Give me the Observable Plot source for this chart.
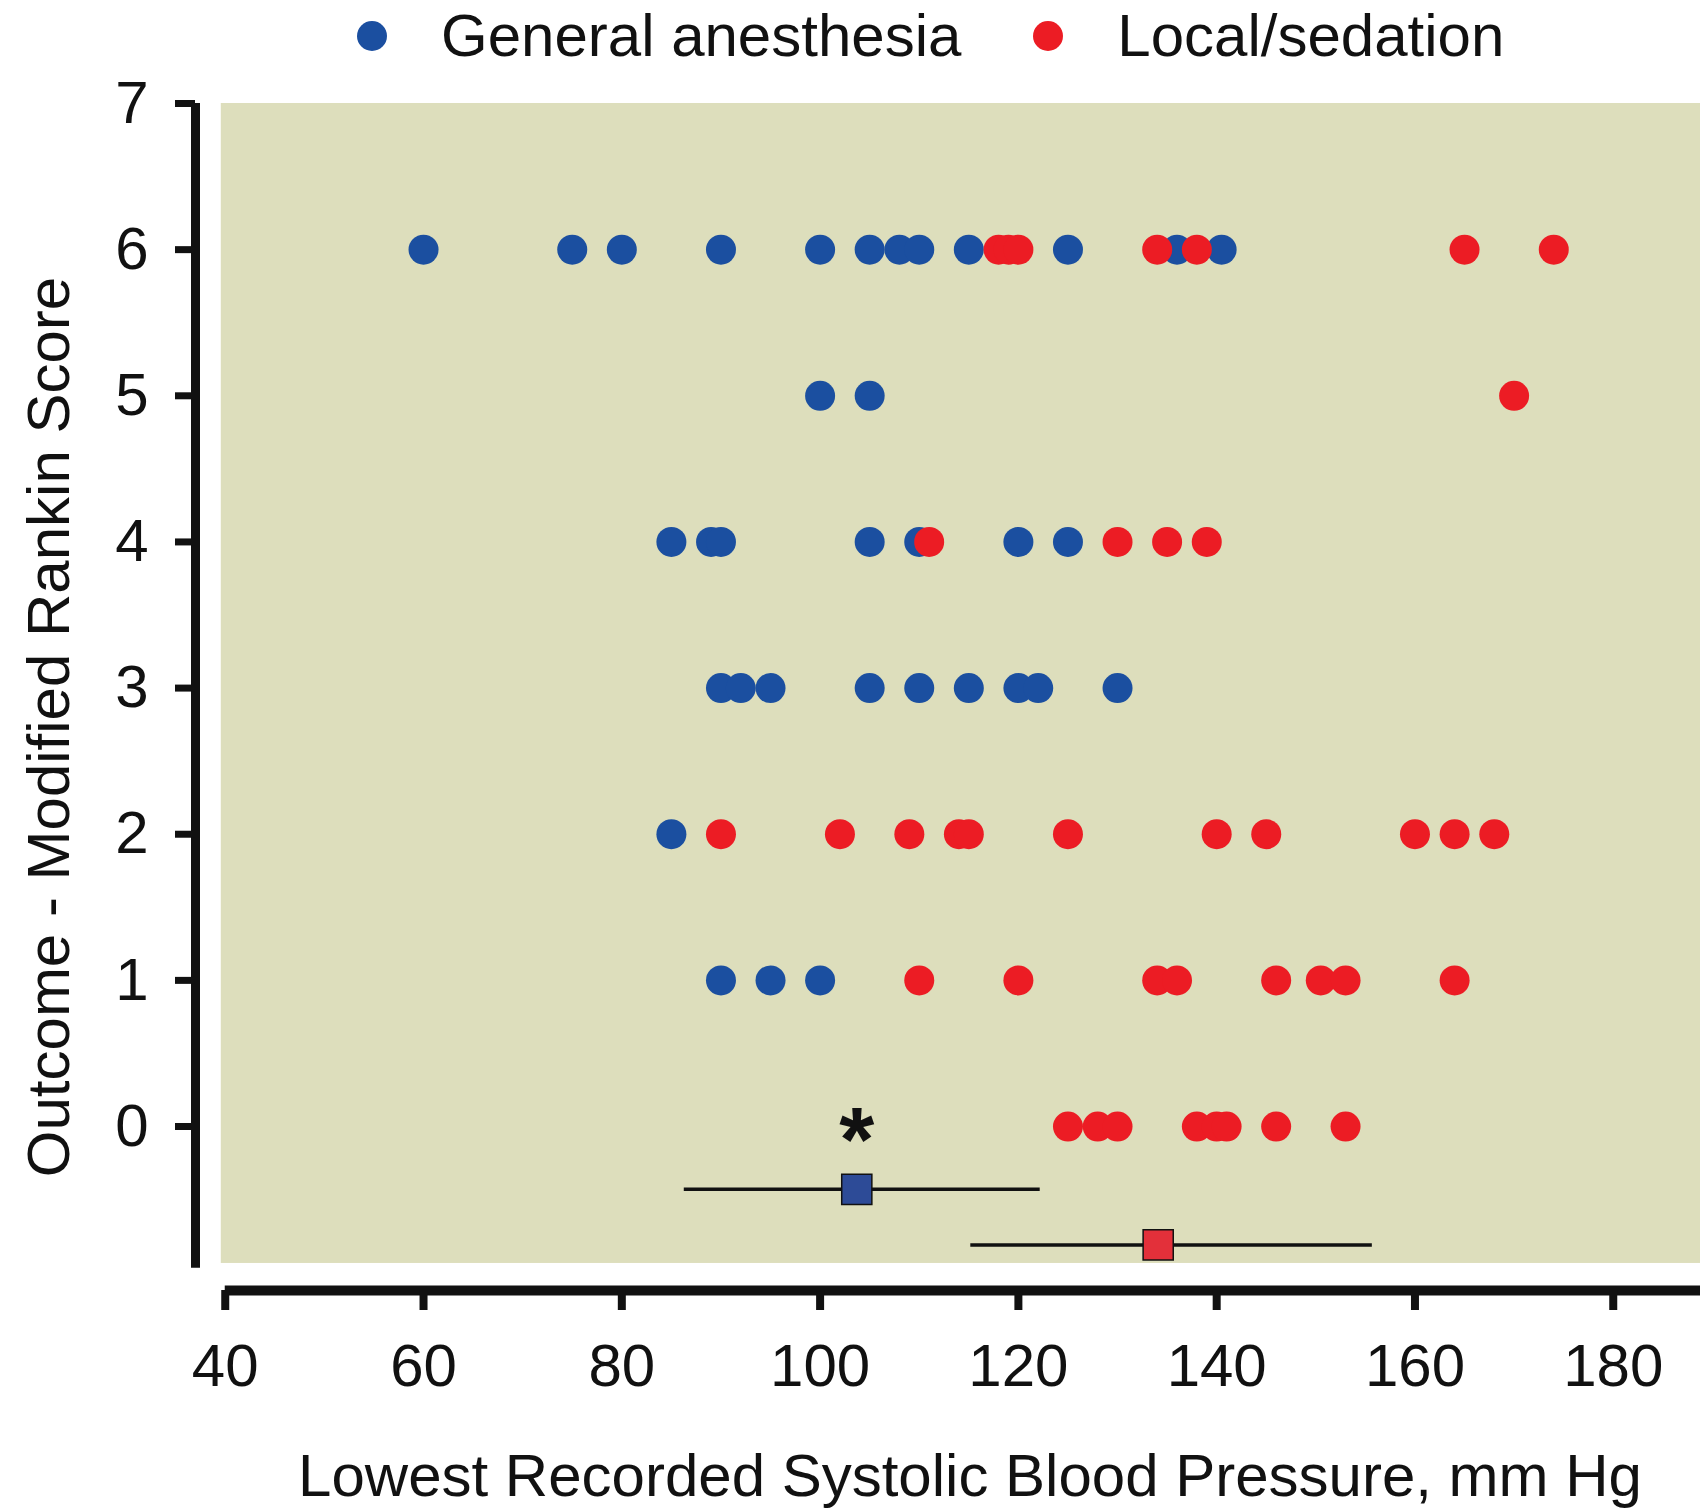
<!DOCTYPE html>
<html><head><meta charset="utf-8">
<script src="https://cdn.jsdelivr.net/npm/d3@7"></script>
<script src="https://cdn.jsdelivr.net/npm/@observablehq/plot@0.6"></script>
<style>
body{margin:0;background:#fff;font-family:"Liberation Sans",Arial,sans-serif;}
#legend{height:72px;display:flex;align-items:center;padding-left:357px;font-size:60px;line-height:1;color:#111;}
.sw{width:30px;height:30px;border-radius:50%;display:inline-block;flex:none;}
#chart{margin-top:8px;}
</style></head><body>
<div id="legend"></div><div id="chart"></div>
<script>
// ---- data ----
const groups = ["General anesthesia", "Local/sedation"];
const groupColors = ["#1b4fa0", "#ec1c24"];
const squareColors = ["#2d4b97", "#e3303a"];

// General anesthesia: x = lowest systolic BP, y = modified Rankin score
const gaX = [60, 75, 80, 90, 100, 105, 108, 110, 115, 125, 136, 140.5,
             100, 105,
             85, 89, 90, 105, 110, 120, 125,
             90, 92, 95, 105, 110, 115, 120, 122, 130,
             85,
             90, 95, 100];
const gaY = [6, 6, 6, 6, 6, 6, 6, 6, 6, 6, 6, 6,
             5, 5,
             4, 4, 4, 4, 4, 4, 4,
             3, 3, 3, 3, 3, 3, 3, 3, 3,
             2,
             1, 1, 1];

// Local/sedation
const lsX = [118, 119, 120, 134, 138, 165, 174,
             170,
             111, 130, 135, 139,
             90, 102, 109, 114, 115, 125, 140, 145, 160, 164, 168,
             110, 120, 134, 136, 146, 150.5, 153, 164,
             125, 128, 130, 138, 140, 141, 146, 153];
const lsY = [6, 6, 6, 6, 6, 6, 6,
             5,
             4, 4, 4, 4,
             2, 2, 2, 2, 2, 2, 2, 2, 2, 2, 2,
             1, 1, 1, 1, 1, 1, 1, 1,
             0, 0, 0, 0, 0, 0, 0, 0];

// mean and spread markers
const sumMean = [103.7, 134.1];
const sumLow = [86.3, 115.2];
const sumHigh = [122.2, 155.7];
const sumY = [-0.43, -0.81];

// significance marker
const starX = [103.7];
const starY = [0];
const starText = ["*"];

const xTicks = [40, 60, 80, 100, 120, 140, 160, 180];
const yTicks = [0, 1, 2, 3, 4, 5, 6, 7];
const xLabel = "Lowest Recorded Systolic Blood Pressure, mm Hg";
const yLabel = "Outcome - Modified Rankin Score";

// scale extents (offset axes)
const xDomain = [37, 188.8];
const yDomain = [-1.122, 7];
const xAxisStart = 40;
const yAxisBottom = -0.97;
const panelX = [39.6, 188.8];
const panelY = [-0.937, 7];
const panelColor = "#dddebc";

// ---- build ----
const gaPts = gaX.map((x, i) => ({x, y: gaY[i]}));
const lsPts = lsX.map((x, i) => ({x, y: lsY[i]}));
const summary = groups.map((g, i) => ({g, mean: sumMean[i], lo: sumLow[i], hi: sumHigh[i], y: sumY[i], c: squareColors[i]}));
const stars = starX.map((x, i) => ({x, y: starY[i], t: starText[i]}));
const panel = [{x1: panelX[0], x2: panelX[1], y1: panelY[0], y2: panelY[1]}];

// legend
const leg = document.getElementById("legend");
groups.forEach((g, i) => {
  const sw = document.createElement("span");
  sw.className = "sw";
  sw.style.background = groupColors[i];
  sw.style.marginLeft = i === 0 ? "0px" : "72px";
  sw.style.marginRight = "54px";
  const t = document.createElement("span");
  t.textContent = g;
  leg.appendChild(sw); leg.appendChild(t);
});

const chart = Plot.plot({
  width: 1700,
  height: 1429,
  marginLeft: 195,
  marginRight: 0,
  marginTop: 23,
  marginBottom: 219,
  x: {domain: xDomain},
  y: {domain: yDomain},
  style: {fontFamily: "'Liberation Sans', Arial, sans-serif", fontSize: "60px", color: "#111", background: "white", overflow: "visible"},
  marks: [
    Plot.rect(panel, {x1: "x1", x2: "x2", y1: "y1", y2: "y2", fill: panelColor}),
    Plot.ruleX([xDomain[0]], {y1: yAxisBottom, y2: yDomain[1], stroke: "#111", strokeWidth: 9}),
    Plot.ruleY([yDomain[0]], {x1: xAxisStart, x2: xDomain[1], stroke: "#111", strokeWidth: 10}),
    Plot.axisY({ticks: yTicks, tickSize: 20, tickPadding: 27, stroke: "#111", strokeWidth: 7, fontSize: 60, tickFormat: d3.format("d"), label: null}),
    Plot.axisX({ticks: xTicks, tickSize: 20, tickPadding: 33, stroke: "#111", strokeWidth: 8, fontSize: 60, tickFormat: d3.format("d"), label: null}),
    Plot.text([yLabel], {text: d => d, frameAnchor: "left", textAnchor: "middle", lineAnchor: "middle", rotate: -90, dx: -146, dy: 30, fontSize: 60, fill: "#111"}),
    Plot.text([xLabel], {text: d => d, frameAnchor: "bottom", textAnchor: "middle", lineAnchor: "bottom", dx: 22, dy: 205, fontSize: 60, fill: "#111"}),
    Plot.dot(gaPts, {x: "x", y: "y", r: 15, fill: groupColors[0]}),
    Plot.dot(lsPts, {x: "x", y: "y", r: 15, fill: groupColors[1]}),
    Plot.ruleY(summary, {y: "y", x1: "lo", x2: "hi", stroke: "#111", strokeWidth: 3.5}),
    Plot.dot(summary, {x: "mean", y: "y", symbol: "square", r: 17, fill: "c", stroke: "#111", strokeWidth: 1.5}),
    Plot.text(stars, {x: "x", y: "y", text: "t", fontSize: 90, fontWeight: "bold", lineAnchor: "bottom", dy: 44, fill: "#111"})
  ]
});
document.getElementById("chart").appendChild(chart);
</script>
</body></html>
